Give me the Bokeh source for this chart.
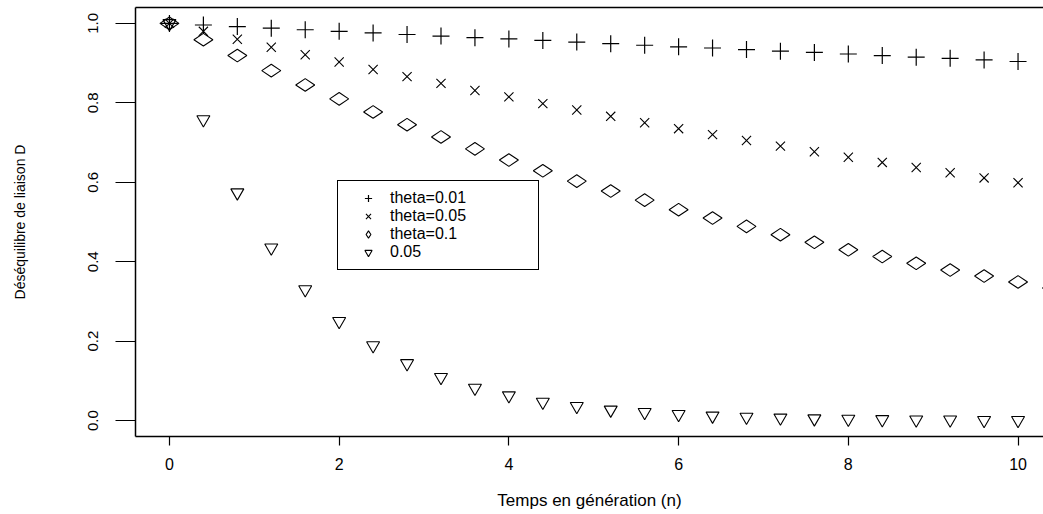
from bokeh.plotting import figure
from bokeh.models import Range1d, FixedTicker, LinearAxis, PrintfTickFormatter, Legend
from bokeh.embed import file_html
from bokeh.resources import INLINE

# generation times (n)
n = [0.0, 0.4, 0.8, 1.2, 1.6, 2.0, 2.4, 2.8, 3.2, 3.6, 4.0, 4.4, 4.8, 5.2,
     5.6, 6.0, 6.4, 6.8, 7.2, 7.6, 8.0, 8.4, 8.8, 9.2, 9.6, 10.0, 10.4]

d_theta_001 = [1.000, 0.996, 0.992, 0.988, 0.984, 0.980, 0.976, 0.972, 0.968,
               0.964, 0.961, 0.957, 0.953, 0.949, 0.945, 0.941, 0.938, 0.934,
               0.930, 0.927, 0.923, 0.919, 0.915, 0.912, 0.908, 0.904, 0.901]
d_theta_005 = [1.000, 0.980, 0.960, 0.940, 0.921, 0.903, 0.884, 0.866, 0.849,
               0.831, 0.815, 0.798, 0.782, 0.766, 0.750, 0.735, 0.720, 0.705,
               0.691, 0.677, 0.663, 0.650, 0.637, 0.624, 0.611, 0.599, 0.587]
d_theta_01 = [1.000, 0.959, 0.919, 0.881, 0.845, 0.810, 0.777, 0.745, 0.714,
              0.684, 0.656, 0.629, 0.603, 0.578, 0.555, 0.531, 0.510, 0.489,
              0.468, 0.449, 0.430, 0.413, 0.396, 0.379, 0.364, 0.349, 0.334]
d_fast = [1.000, 0.758, 0.574, 0.435, 0.330, 0.250, 0.189, 0.144, 0.109,
          0.082, 0.063, 0.047, 0.036, 0.027, 0.021, 0.016, 0.012, 0.009,
          0.007, 0.005, 0.004, 0.003, 0.002, 0.002, 0.001, 0.001, 0.001]

labels = ["theta=0.01", "theta=0.05", "theta=0.1", "0.05"]
x_ticks = [0, 2, 4, 6, 8, 10]
y_ticks = [0.0, 0.2, 0.4, 0.6, 0.8, 1.0]

FONT = "Liberation Sans"

p = figure(width=1043, height=514, output_backend="svg", toolbar_location=None,
           x_range=Range1d(-0.4, 10.3), y_range=Range1d(-0.04, 1.04),
           min_border_left=135, min_border_right=0, min_border_top=7,
           min_border_bottom=78, background_fill_color="white",
           border_fill_color="white", outline_line_color=None)
p.grid.visible = False

r1 = p.scatter(n, d_theta_001, marker="cross", size=17, line_color="black",
               fill_color=None, line_width=1.2)
r2 = p.scatter(n, d_theta_005, marker="x", size=13, line_color="black",
               fill_color=None, line_width=1.1)
r3 = p.scatter(n, d_theta_01, marker="diamond", angle=1.5708, size=19,
               line_color="black", fill_color=None, line_width=1.1)
r4 = p.scatter(n, d_fast, marker="inverted_triangle", size=13,
               line_color="black", fill_color=None, line_width=1.1)

legend = Legend(items=[(labels[0], [r1]), (labels[1], [r2]), (labels[2], [r3]), (labels[3], [r4])],
                location=(202, 166), border_line_color="black", border_line_width=1.3,
                border_line_alpha=1.0,
                background_fill_color="white", background_fill_alpha=1,
                label_text_font=FONT, label_text_font_size="16px",
                label_text_color="black",
                label_height=18, glyph_height=18, glyph_width=44, spacing=0,
                padding=8, margin=0, label_standoff=0, label_width=140)
p.add_layout(legend, "center")

xa = p.xaxis[0]
xa.ticker = FixedTicker(ticks=x_ticks)
xa.axis_label = "Temps en génération (n)"
ya = p.yaxis[0]
ya.ticker = FixedTicker(ticks=y_ticks)
ya.formatter = PrintfTickFormatter(format="%.1f")
ya.axis_label = "Déséquilibre de liaison D"
ya.major_label_orientation = "vertical"

for ax in (xa, ya):
    ax.axis_line_color = "black"
    ax.axis_line_width = 1.5
    ax.major_tick_line_color = "black"
    ax.major_tick_line_width = 1.2
    ax.major_tick_in = 0
    ax.minor_tick_line_color = None
    ax.major_label_text_font = FONT
    ax.major_label_text_color = "black"
    ax.axis_label_text_font = FONT
    ax.axis_label_text_font_style = "normal"
    ax.axis_label_text_color = "black"

xa.major_tick_out = 9
xa.major_label_standoff = 12
xa.major_label_text_font_size = "16px"
xa.axis_label_text_font_size = "17px"
xa.axis_label_standoff = 18

ya.major_tick_out = 20
ya.major_label_standoff = 17
ya.major_label_text_font_size = "15px"
ya.axis_label_text_font_size = "14px"
ya.axis_label_standoff = 58

top = LinearAxis(ticker=FixedTicker(ticks=[]), major_label_text_font_size="0px",
                 major_tick_out=0, major_tick_in=0, minor_tick_line_color=None,
                 axis_line_color="black", axis_line_width=1.5)
p.add_layout(top, "above")

open("out.html", "w").write(file_html(p, INLINE))
